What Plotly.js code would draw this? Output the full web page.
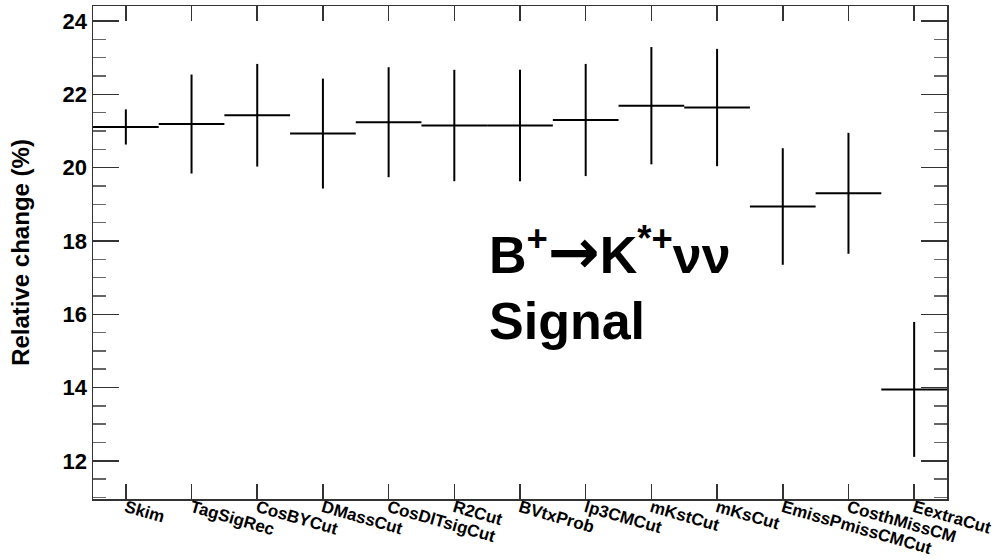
<!DOCTYPE html>
<html><head><meta charset="utf-8">
<script src="https://cdn.plot.ly/plotly-3.0.1.min.js"></script>
<style>html,body{margin:0;padding:0;background:#fff}</style>
</head><body><div id="chart" style="width:997px;height:560px"></div>
<script>
const categories = ['Skim','TagSigRec','CosBYCut','DMassCut','CosDlTsigCut','R2Cut','BVtxProb','lp3CMCut','mKstCut','mKsCut','EmissPmissCMCut','CosthMissCM','EextraCut'];
const values = [21.11,21.19,21.43,20.93,21.24,21.15,21.15,21.30,21.69,21.64,18.94,19.30,13.95];
const errors = [0.48,1.35,1.40,1.50,1.50,1.52,1.52,1.53,1.60,1.60,1.59,1.65,1.84];
const binHalfWidth = 0.5;
const yTitle = 'Relative change (%)';
const label1 = 'B<sup>+</sup><span style="font-family:DejaVu Sans;font-size:62px">\u2192</span>K<sup>*+</sup>\u03BD\u03BD';
const label2 = 'Signal';

const binIndex = categories.map((c, i) => i);

const trace = {
  type: 'scatter', mode: 'markers', x: binIndex, y: values,
  marker: {size: 1, color: 'rgba(0,0,0,0)'},
  error_y: {type: 'data', array: errors, symmetric: true, width: 0, thickness: 2, color: '#000'},
  error_x: {type: 'constant', value: binHalfWidth, width: 0, thickness: 2, color: '#000'},
  hoverinfo: 'skip'
};
const axisCol = '#333';
const layout = {
  width: 997, height: 560,
  margin: {l: 93, r: 50, t: 6, b: 61},
  paper_bgcolor: '#fff', plot_bgcolor: '#fff', showlegend: false,
  xaxis: {
    range: [-0.5, 12.5], tickmode: 'array', tickvals: binIndex, ticktext: categories,
    ticks: 'inside', ticklen: 15, tickwidth: 1.5, tickcolor: axisCol,
    showline: true, linecolor: axisCol, linewidth: 1.5, mirror: 'ticks', showgrid: false, zeroline: false,
    tickangle: 16, ticklabelstandoff: -9, ticklabeloverflow: 'allow',
    tickfont: {family: 'Liberation Sans', size: 17, color: '#000', weight: 'bold'}, automargin: false
  },
  yaxis: {
    range: [10.96, 24.41], tick0: 0, dtick: 2, ticks: 'inside', ticklen: 26, tickwidth: 1.5, tickcolor: axisCol,
    showline: true, linecolor: axisCol, linewidth: 1.5, mirror: 'ticks', showgrid: false, zeroline: false,
    tickfont: {family: 'Liberation Sans', size: 22, color: '#000', weight: 'bold'}, automargin: false,
    minor: {dtick: 0.5, tick0: 0, ticks: 'inside', ticklen: 13, tickwidth: 1.5, tickcolor: '#666', showgrid: false},
    title: {text: yTitle, font: {family: 'Liberation Sans', size: 24, color: '#000', weight: 'bold'}, standoff: 26}
  },
  annotations: [
    {xref: 'paper', yref: 'paper', x: 0.461, y: 0.503, xanchor: 'left', yanchor: 'middle', showarrow: false,
     text: label1, font: {family: 'Liberation Sans', size: 52, color: '#000', weight: 'bold'}},
    {xref: 'paper', yref: 'paper', x: 0.461, y: 0.361, xanchor: 'left', yanchor: 'middle', showarrow: false,
     text: label2, font: {family: 'Liberation Sans', size: 52, color: '#000', weight: 'bold'}}
  ]
};
Plotly.newPlot('chart', [trace], layout, {staticPlot: true, displayModeBar: false});
</script></body></html>
